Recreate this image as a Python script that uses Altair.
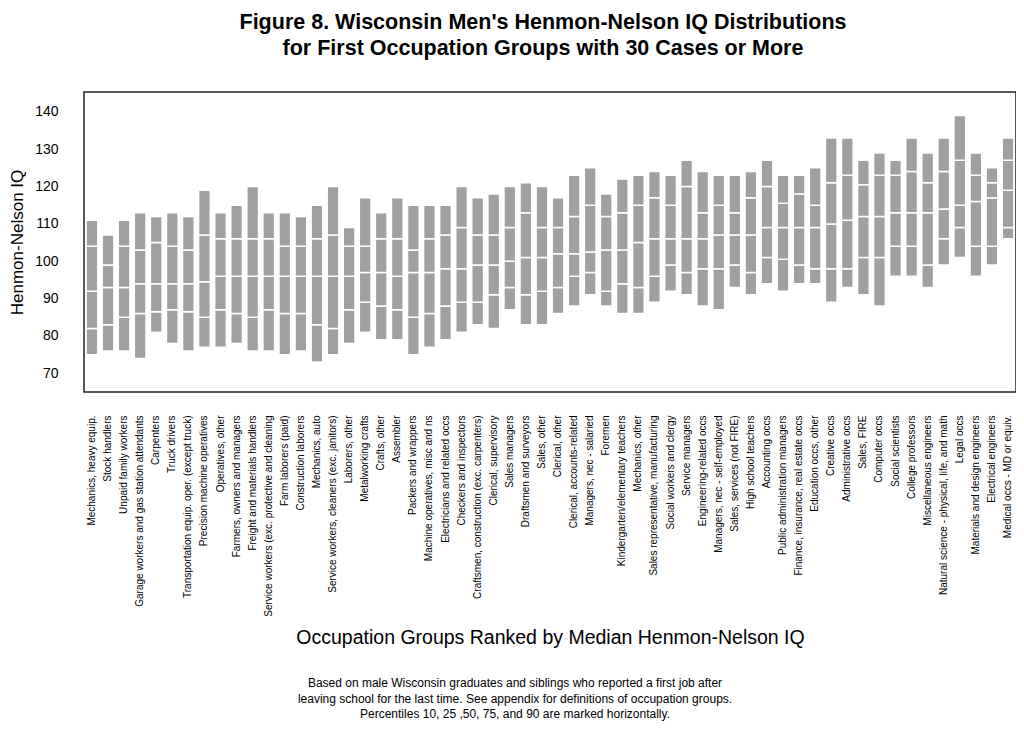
import altair as alt
import pandas as pd

categories = [
    "Mechanics, heavy equip.", "Stock handlers", "Unpaid family workers",
    "Garage workers and gas station attendants", "Carpenters", "Truck drivers",
    "Transportation equip. oper. (except truck)", "Precision machine operatives",
    "Operatives, other", "Farmers, owners and managers", "Freight and materials handlers",
    "Service workers (exc. protective and cleaning", "Farm laborers (paid)",
    "Construction laborers", "Mechanics, auto", "Service workers, cleaners (exc. janitors)",
    "Laborers, other", "Metalworking crafts", "Crafts, other", "Assembler",
    "Packers and wrappers", "Machine operatives, misc and ns", "Electricians and related occs",
    "Checkers and inspectors", "Craftsmen, construction (exc. carpenters)",
    "Clerical, supervisory", "Sales managers", "Draftsmen and surveyors", "Sales, other",
    "Clerical, other", "Clerical, accounts-related", "Managers, nec - salaried", "Foremen",
    "Kindergarten/elementary teachers", "Mechanics, other",
    "Sales representative, manufacturing", "Social workers and clergy", "Service managers",
    "Engineering-related occs", "Managers, nec - self-employed", "Sales, services (not FIRE)",
    "High school teachers", "Accounting occs", "Public administration managers",
    "Finance, insurance, real estate occs", "Education occs, other", "Creative occs",
    "Administrative occs", "Sales, FIRE", "Computer occs", "Social scientists",
    "College professors", "Miscellaneous engineers",
    "Natural science - physical, life, and math", "Legal occs",
    "Materials and design engineers", "Electrical engineers", "Medical occs - MD or equiv.",
]

p10 = [75, 76, 76, 74, 81, 78, 76, 77, 77, 78, 76, 76, 75, 76, 73, 75, 78, 81, 79, 79,
       75, 77, 79, 81, 83, 82, 87, 83, 83, 86, 88, 91, 88, 86, 86, 89, 92, 91, 88, 87,
       93, 91, 94, 92, 94, 94, 89, 93, 91, 88, 96, 96, 93, 99, 101, 96, 99, 106]
p25 = [82, 83, 85, 86, 86.5, 87, 86.5, 85, 87, 86, 85, 87, 86, 86, 83, 82, 87, 89, 88, 87,
       85, 86, 88, 89, 89, 91, 93, 91, 92, 93, 96, 97, 92, 94, 93, 96, 99, 97, 98, 98,
       99, 97, 101, 100.5, 99, 98, 98, 98, 101, 101, 104, 104, 99, 106, 109, 104, 104, 109]
p50 = [92, 93, 93, 94, 94, 94, 94, 94.5, 96, 96, 96, 96, 96, 96, 96, 96, 96, 97, 97, 96,
       97, 97, 98, 98, 99, 99, 100, 101, 101, 102, 102, 102.5, 103, 103, 105, 106, 106, 106, 106, 107,
       107, 107, 109, 109, 109, 109, 110, 111, 112, 112, 113, 113, 113, 114, 115, 116, 117, 119]
p75 = [104, 99, 104, 103, 105, 104, 103, 107, 106, 106, 106, 106, 104, 104, 106, 107, 104, 104, 106, 106,
       103, 106, 107, 109, 107, 107, 109, 113, 109, 109, 112, 115, 112, 113, 115, 117, 115, 120, 113, 115,
       113, 117, 120, 115.5, 118, 115, 121, 123, 120.5, 123, 123, 124, 121, 124, 127, 123, 121, 127]
p90 = [111, 107, 111, 113, 112, 113, 112, 119, 113, 115, 120, 113, 113, 112, 115, 120, 109, 117, 113, 117,
       115, 115, 115, 120, 117, 118, 120, 121, 120, 117, 123, 125, 118, 122, 123, 124, 123, 127, 124, 123,
       123, 124, 127, 123, 123, 125, 133, 133, 127, 129, 127, 133, 129, 133, 139, 129, 125, 133]

rows = []
for i, c in enumerate(categories):
    q = [p10[i], p25[i], p50[i], p75[i], p90[i]]
    for k in range(4):
        rows.append({"occ": c, "lo": q[k], "hi": q[k + 1], "seg": k})
df = pd.DataFrame(rows)

FONT = "Liberation Sans"

footnote = ("Based on male Wisconsin graduates and siblings who reported a first job after\n"
            "leaving school for the last time.  See appendix for definitions of occupation groups.\n"
            "Percentiles 10, 25 ,50, 75, and 90 are marked horizontally.")

bars = alt.Chart(df).mark_bar(
    color="#a0a0a0", stroke="white", strokeWidth=1.5, cornerRadius=1
).encode(
    x=alt.X(
        "occ:N", sort=categories,
        scale=alt.Scale(paddingInner=0.27, paddingOuter=0.13),
        axis=alt.Axis(
            title="Occupation Groups Ranked by Median Henmon-Nelson IQ",
            labelAngle=-90, labelFontSize=10, labelPadding=23, ticks=False,
            domain=False, labelLimit=300, labelFont=FONT, labelColor="black",
            titleFont=FONT, titleFontSize=19.5, titleFontWeight="normal", titleColor="black",
            titleY=245, titleBaseline="middle",
        ),
    ),
    y=alt.Y(
        "lo:Q",
        scale=alt.Scale(domain=[65, 145.3], nice=False, zero=False),
        axis=alt.Axis(
            title="Henmon-Nelson IQ", values=list(range(70, 141, 10)), ticks=False,
            domain=False, grid=False, labelPadding=26, labelFontSize=14,
            labelFont=FONT, labelColor="black",
            titleFont=FONT, titleFontSize=17, titleFontWeight="normal", titleColor="black",
            titleX=-67, titleY=150, titleAlign="center", titleBaseline="middle", titleAngle=-90,
        ),
    ),
    y2="hi:Q",
)

foot = alt.Chart(alt.Data(values=[{"t": footnote}])).mark_text(
    align="center", baseline="middle", fontSize=12, lineBreak="\n", lineHeight=15.5,
    font=FONT, color="black",
).encode(text="t:N", x=alt.value(431), y=alt.value(591))

chart = alt.layer(bars, foot).properties(
    width=932, height=300,
    background="white",
    autosize=alt.AutoSizeParams(type="none"),
    padding={"left": 76, "top": 84, "right": 0, "bottom": 330},
    title=alt.TitleParams(
        text=["Figure 8. Wisconsin Men's Henmon-Nelson IQ Distributions",
              "for First Occupation Groups with 30 Cases or More"],
        font=FONT, fontSize=21.5, fontWeight="bold", color="black",
        anchor="middle", frame="group", offset=33, dx=-7, lineHeight=26,
    ),
).configure_view(stroke="#222", strokeWidth=1.5)

chart.save("out.html", embed_options={"renderer": "svg", "actions": False})
